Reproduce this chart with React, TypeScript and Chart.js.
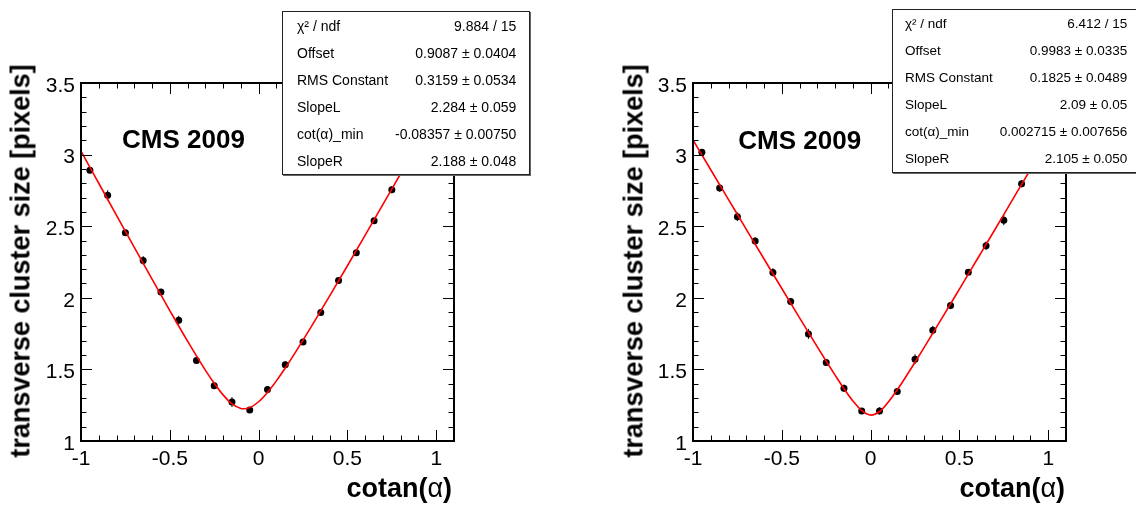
import React, { useEffect, useRef } from "react";
import { Chart, registerables } from "chart.js";

Chart.register(...registerables);

const FONT = '"Liberation Sans", Arial, Helvetica, sans-serif';

// ---------- data ----------
const binCenters = [-0.95, -0.85, -0.75, -0.65, -0.55, -0.45, -0.35, -0.25, -0.15, -0.05, 0.05, 0.15, 0.25, 0.35, 0.45, 0.55, 0.65, 0.75, 0.85, 0.95];

const leftValues = [2.891, 2.716, 2.454, 2.261, 2.040, 1.844, 1.562, 1.385, 1.272, 1.216, 1.360, 1.533, 1.692, 1.898, 2.121, 2.314, 2.538, 2.755, 2.98, 3.19];
const leftErrors = [0.02, 0.035, 0.02, 0.03, 0.02, 0.03, 0.02, 0.02, 0.035, 0.02, 0.02, 0.025, 0.02, 0.02, 0.02, 0.02, 0.02, 0.025, 0.02, 0.02];

const rightValues = [3.017, 2.766, 2.566, 2.396, 2.177, 1.974, 1.748, 1.548, 1.368, 1.210, 1.210, 1.345, 1.571, 1.774, 1.946, 2.179, 2.363, 2.542, 2.796, 3.01];
const rightErrors = [0.02, 0.025, 0.03, 0.025, 0.03, 0.025, 0.035, 0.02, 0.025, 0.02, 0.025, 0.02, 0.035, 0.03, 0.025, 0.02, 0.03, 0.035, 0.025, 0.02];

// fitted curves
const leftFitX = [-1.0, -0.9, -0.8, -0.7, -0.6, -0.5, -0.4, -0.3, -0.25, -0.2, -0.15, -0.1, -0.0836, -0.05, 0.0, 0.05, 0.1, 0.15, 0.2, 0.25, 0.3, 0.4, 0.5, 0.6, 0.7, 0.8, 0.9, 1.0, 1.1];
const leftFitY = [3.025, 2.800, 2.575, 2.352, 2.130, 1.911, 1.697, 1.495, 1.403, 1.322, 1.259, 1.227, 1.225, 1.233, 1.274, 1.339, 1.420, 1.510, 1.605, 1.704, 1.806, 2.013, 2.224, 2.437, 2.652, 2.868, 3.084, 3.301, 3.518];

const rightFitX = [-1.0, -0.9, -0.8, -0.7, -0.6, -0.5, -0.4, -0.3, -0.25, -0.2, -0.15, -0.1, -0.05, 0.0027, 0.05, 0.1, 0.15, 0.2, 0.25, 0.3, 0.4, 0.5, 0.6, 0.7, 0.8, 0.9, 1.0, 1.1];
const rightFitY = [3.102, 2.894, 2.686, 2.478, 2.271, 2.065, 1.860, 1.657, 1.557, 1.460, 1.366, 1.280, 1.212, 1.181, 1.206, 1.273, 1.358, 1.452, 1.550, 1.650, 1.854, 2.061, 2.269, 2.477, 2.687, 2.896, 3.106, 3.315];

const xTickValues = [-1, -0.5, 0, 0.5, 1];
const xTickLabels = ["-1", "-0.5", "0", "0.5", "1"];
const yTickValues = [1, 1.5, 2, 2.5, 3, 3.5];
const yTickLabels = ["1", "1.5", "2", "2.5", "3", "3.5"];

const statLabels = ["χ² / ndf", "Offset", "RMS Constant", "SlopeL", "cot(α)_min", "SlopeR"];
const leftStats = ["9.884 / 15", "0.9087 ± 0.0404", "0.3159 ± 0.0534", "2.284 ± 0.059", "-0.08357 ± 0.00750", "2.188 ± 0.048"];
const rightStats = ["6.412 / 15", "0.9983 ± 0.0335", "0.1825 ± 0.0489", "2.09 ± 0.05", "0.002715 ± 0.007656", "2.105 ± 0.050"];

const yTitle = "transverse cluster size [pixels]";
const xTitleMain = "cotan(";
const xTitleGreek = "α";
const xTitleEnd = ")";
const experimentLabel = "CMS 2009";

const X_MIN = -1;
const X_MAX = 1.1;
const Y_MIN = 1;
const Y_MAX = 3.5;

// ---------- plugin: ROOT-like frame, inward ticks, error bars ----------
const rootAxesPlugin = {
  id: "rootAxes",
  beforeDatasetsDraw(chart: any, _args: any, opts: any) {
    const { ctx, scales } = chart;
    const xs = scales.x;
    const ys = scales.y;
    const errs: number[] = opts.errors || [];
    const vals: number[] = opts.values || [];
    ctx.save();
    ctx.strokeStyle = "#000";
    ctx.lineWidth = 1;
    ctx.beginPath();
    binCenters.forEach((x, i) => {
      const px = xs.getPixelForValue(x);
      ctx.moveTo(px, ys.getPixelForValue(vals[i] - errs[i]));
      ctx.lineTo(px, ys.getPixelForValue(vals[i] + errs[i]));
    });
    ctx.stroke();
    ctx.restore();
  },
  afterDraw(chart: any) {
    const { ctx, chartArea: a, scales } = chart;
    const xs = scales.x;
    const ys = scales.y;
    ctx.save();
    ctx.strokeStyle = "#000";
    ctx.lineWidth = 1;
    const major = 11;
    const minor = 5.5;
    ctx.beginPath();
    for (let k = 0; k <= 21; k++) {
      const v = Math.round((X_MIN + k * 0.1) * 10) / 10;
      const isMajor = Math.abs(v * 2 - Math.round(v * 2)) < 1e-6;
      const len = isMajor ? major : minor;
      const px = Math.round(xs.getPixelForValue(v)) + 0.5;
      ctx.moveTo(px, a.bottom);
      ctx.lineTo(px, a.bottom - len);
      ctx.moveTo(px, a.top);
      ctx.lineTo(px, a.top + len);
    }
    for (let k = 0; k <= 25; k++) {
      const v = Math.round((Y_MIN + k * 0.1) * 10) / 10;
      const isMajor = Math.abs(v * 2 - Math.round(v * 2)) < 1e-6;
      const len = isMajor ? major : minor;
      const py = Math.round(ys.getPixelForValue(v)) + 0.5;
      ctx.moveTo(a.left, py);
      ctx.lineTo(a.left + len, py);
      ctx.moveTo(a.right, py);
      ctx.lineTo(a.right - len, py);
    }
    ctx.stroke();
    ctx.lineWidth = 2;
    ctx.strokeRect(a.left, a.top, a.right - a.left, a.bottom - a.top);
    ctx.restore();
  },
};

type PanelSpec = {
  values: number[];
  errors: number[];
  fitX: number[];
  fitY: number[];
  padding: { left: number; right: number; top: number; bottom: number };
};

const leftSpec: PanelSpec = {
  values: leftValues,
  errors: leftErrors,
  fitX: leftFitX,
  fitY: leftFitY,
  padding: { left: 21, right: 114, top: 83, bottom: 35 },
};

const rightSpec: PanelSpec = {
  values: rightValues,
  errors: rightErrors,
  fitX: rightFitX,
  fitY: rightFitY,
  padding: { left: 65, right: 70, top: 83, bottom: 35 },
};

function PanelChart({ spec }: { spec: PanelSpec }) {
  const ref = useRef<HTMLCanvasElement>(null);
  useEffect(() => {
    const chart = new Chart(ref.current as HTMLCanvasElement, {
      type: "line",
      data: {
        datasets: [
          {
            label: "fit",
            data: spec.fitX.map((x, i) => ({ x, y: spec.fitY[i] })),
            borderColor: "#ff0000",
            borderWidth: 1.6,
            pointRadius: 0,
            cubicInterpolationMode: "monotone",
            fill: false,
          },
          {
            label: "data",
            data: binCenters.map((x, i) => ({ x, y: spec.values[i] })),
            showLine: false,
            pointRadius: 3.5,
            pointHoverRadius: 3.5,
            pointBackgroundColor: "#000",
            pointBorderWidth: 0,
            borderColor: "#000",
          },
        ],
      } as any,
      options: {
        animation: false,
        responsive: false,
        devicePixelRatio: 1,
        events: [],
        layout: { padding: spec.padding },
        plugins: {
          legend: { display: false },
          tooltip: { enabled: false },
          rootAxes: { errors: spec.errors, values: spec.values },
        } as any,
        scales: {
          x: {
            type: "linear",
            min: X_MIN,
            max: X_MAX,
            grid: { display: false, drawTicks: false, tickLength: 0 },
            border: { display: false },
            afterBuildTicks: (s: any) => {
              s.ticks = xTickValues.map((v) => ({ value: v }));
            },
            afterFit: (s: any) => {
              s.height = 30;
            },
            ticks: {
              autoSkip: false,
              maxRotation: 0,
              padding: 6,
              color: "#000",
              font: { family: FONT, size: 21 },
              callback: (v: any) => {
                const i = xTickValues.indexOf(Number(v));
                return i >= 0 ? xTickLabels[i] : "";
              },
            },
          },
          y: {
            type: "linear",
            min: Y_MIN,
            max: Y_MAX,
            grid: { display: false, drawTicks: false, tickLength: 0 },
            border: { display: false },
            afterBuildTicks: (s: any) => {
              s.ticks = yTickValues.map((v) => ({ value: v }));
            },
            afterFit: (s: any) => {
              s.width = 60;
            },
            ticks: {
              autoSkip: false,
              padding: 6,
              labelOffset: 3,
              color: "#000",
              font: { family: FONT, size: 21 },
              callback: (v: any) => {
                const i = yTickValues.indexOf(Number(v));
                return i >= 0 ? yTickLabels[i] : "";
              },
            },
          },
        },
      } as any,
      plugins: [rootAxesPlugin as any],
    });
    return () => chart.destroy();
  }, [spec]);
  return (
    <canvas
      ref={ref}
      width={568}
      height={506}
      style={{ width: 568, height: 506, display: "block" }}
    />
  );
}

function StatsBox(props: {
  left: number;
  top: number;
  width: number;
  height: number;
  fontSize: number;
  padL: number;
  padR: number;
  values: string[];
}) {
  const { left, top, width, height, fontSize, padL, padR, values } = props;
  return (
    <div
      style={{
        position: "absolute",
        left,
        top,
        width,
        height,
        boxSizing: "border-box",
        background: "#fff",
        border: "1px solid #222",
        boxShadow: "1px 1px 0 #666",
        display: "flex",
        flexDirection: "column",
        fontFamily: FONT,
        fontSize,
        color: "#000",
      }}
    >
      {statLabels.map((lab, i) => (
        <div
          key={lab}
          style={{
            flex: 1,
            display: "flex",
            alignItems: "center",
            justifyContent: "space-between",
            paddingLeft: padL,
            paddingRight: padR,
            whiteSpace: "nowrap",
          }}
        >
          <span>{lab}</span>
          <span>{values[i]}</span>
        </div>
      ))}
    </div>
  );
}

function YTitle({ cx }: { cx: number }) {
  return (
    <div
      style={{
        position: "absolute",
        left: cx,
        top: 261,
        transform: "translate(-50%, -50%) rotate(-90deg)",
        fontFamily: FONT,
        fontWeight: "bold",
        fontSize: 27,
        lineHeight: 1,
        whiteSpace: "nowrap",
        color: "#000",
      }}
    >
      {yTitle}
    </div>
  );
}

function XTitle({ right }: { right: number }) {
  return (
    <div
      style={{
        position: "absolute",
        right,
        top: 474.6,
        fontFamily: FONT,
        fontWeight: "bold",
        fontSize: 27,
        lineHeight: 1,
        whiteSpace: "nowrap",
        color: "#000",
      }}
    >
      {xTitleMain}
      <span style={{ fontWeight: "normal" }}>{xTitleGreek}</span>
      {xTitleEnd}
    </div>
  );
}

function CmsLabel({ left, top }: { left: number; top: number }) {
  return (
    <div
      style={{
        position: "absolute",
        left,
        top,
        fontFamily: FONT,
        fontWeight: "bold",
        fontSize: 26,
        lineHeight: 1,
        whiteSpace: "nowrap",
        color: "#000",
      }}
    >
      {experimentLabel}
    </div>
  );
}

export default function App() {
  return (
    <div
      style={{
        position: "fixed",
        left: 0,
        top: 0,
        width: 1136,
        height: 506,
        overflow: "hidden",
        background: "#fff",
        fontFamily: FONT,
      }}
    >
      <div style={{ position: "absolute", left: 0, top: 0 }}>
        <PanelChart spec={leftSpec} />
      </div>
      <div style={{ position: "absolute", left: 568, top: 0 }}>
        <PanelChart spec={rightSpec} />
      </div>

      <YTitle cx={21} />
      <YTitle cx={633.5} />
      <XTitle right={1136 - 452} />
      <XTitle right={1136 - 1065} />
      <CmsLabel left={122} top={126.3} />
      <CmsLabel left={738.3} top={127} />

      <StatsBox left={282} top={11} width={248} height={164} fontSize={14} padL={14} padR={12.7} values={leftStats} />
      <StatsBox left={892} top={9.3} width={249} height={163.4} fontSize={13.5} padL={12} padR={12.7} values={rightStats} />
    </div>
  );
}
